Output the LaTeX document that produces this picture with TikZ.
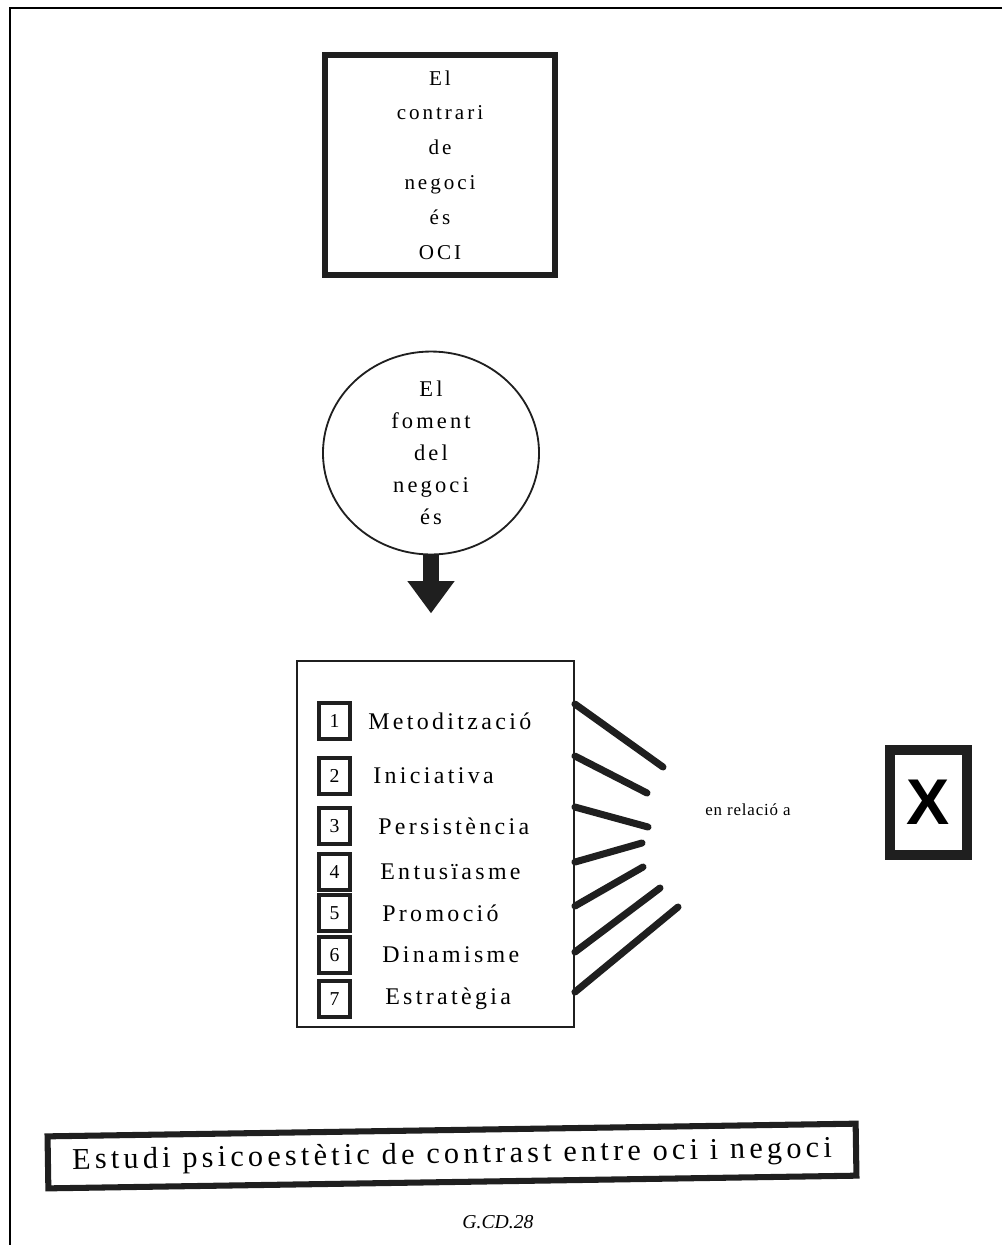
\documentclass[tikz,border=0pt]{standalone}
\usepackage{fontspec}
\setmainfont{Liberation Serif}
\newfontfamily\hand[LetterSpace=14]{Liberation Serif}
\newfontfamily\handnarrow[LetterSpace=5]{Liberation Serif}
\newfontfamily\marca{Liberation Sans}
\usetikzlibrary{shapes.geometric,arrows.meta}
\definecolor{tinta}{gray}{0.12}

\begin{document}
\begin{tikzpicture}[x=0.025cm, y=-0.025cm,
        quadre/.style={draw=tinta, line width=4.3pt, inner sep=0pt},
        numbox/.style={draw=tinta, line width=2.8pt, minimum width=0.78cm, minimum height=0.9cm, inner sep=0pt, font=\fontsize{14pt}{14pt}\selectfont},
        item/.style={anchor=west, inner sep=0pt, font=\hand\fontsize{17pt}{17pt}\selectfont},
        fan/.style={draw=tinta, line width=5pt, line cap=round}]

    % Bounding box and frame
    \useasboundingbox (0,0) rectangle (1002,1245);
    \draw[line width=1.4pt] (1002,8) -- (10,8) -- (10,1245);

    % Top box
    \node[quadre, minimum width=5.73cm, minimum height=5.5cm, align=center,
        font=\hand\fontsize{15pt}{24.8pt}\selectfont] (contrari) at (440,165)
        {El\\contrari\\de\\negoci\\és\\OCI};

    % Circle
    \node[ellipse, draw=tinta, line width=1.3pt, minimum width=5.4cm, minimum height=4.95cm,
        inner sep=0pt, align=center, font=\hand\fontsize{16pt}{22.7pt}\selectfont] (foment) at (431,453)
        {El\\foment\\del\\negoci\\és};

    % Arrow
    \draw[tinta, line width=12pt, -{Triangle[length=23pt, width=32pt]}] (foment.south) -- ++(0,58);

    % List box
    \node[draw=tinta, line width=1.3pt, minimum width=6.925cm, minimum height=9.15cm] (llista) at (435.5,844) {};

    % Numbered items
    \node[numbox] (n1) at (334.5,721) {1};
    \node[item] (m1) at (368,721) {Metodització};
    \node[numbox] (n2) at (334.5,776) {2};
    \node[item] (m2) at (373,776) {Iniciativa};
    \node[numbox] (n3) at (334.5,826) {3};
    \node[item] (m3) at (378,826) {Persistència};
    \node[numbox] (n4) at (334.5,872) {4};
    \node[item] (m4) at (380,872) {Entusïasme};
    \node[numbox] (n5) at (334.5,913) {5};
    \node[item] (m5) at (382,913) {Promoció};
    \node[numbox] (n6) at (334.5,955) {6};
    \node[item] (m6) at (382,955) {Dinamisme};
    \node[numbox] (n7) at (334.5,999) {7};
    \node[item] (m7) at (385,999) {Estratègia};

    % Fan lines
    \coordinate (f1) at (663,767);
    \coordinate (f2) at (647,793);
    \coordinate (f3) at (648,827);
    \coordinate (f4) at (642,843);
    \coordinate (f5) at (643,867);
    \coordinate (f6) at (660,888);
    \coordinate (f7) at (678,907);
    \draw[fan] (llista.north east) ++(0,44) -- (f1);
    \draw[fan] (llista.north east) ++(0,96) -- (f2);
    \draw[fan] (llista.north east) ++(0,147) -- (f3);
    \draw[fan] (llista.north east) ++(0,202) -- (f4);
    \draw[fan] (llista.north east) ++(0,246) -- (f5);
    \draw[fan] (llista.north east) ++(0,292) -- (f6);
    \draw[fan] (llista.north east) ++(0,332) -- (f7);

    % Relation label and X box
    \node[font=\handnarrow\fontsize{12pt}{12pt}\selectfont] (relacio) at (748,810) {en relació a};
    \node[draw=tinta, line width=7pt, minimum width=1.925cm, minimum height=2.625cm, inner sep=0pt,
        font=\marca\bfseries\fontsize{46pt}{46pt}\selectfont] (xcaixa) at (928.5,802.5) {X};

    % Bottom banner
    \node[quadre, rotate=0.9, minimum width=20.2cm, minimum height=1.3cm,
        font=\hand\fontsize{21.5pt}{21.5pt}\selectfont] (estudi) at (452,1156)
        {Estudi psicoestètic de contrast entre oci i negoci};

    % Code
    \node[font=\itshape\fontsize{14pt}{14pt}\selectfont] (codi) at (498,1222) {G.CD.28};

\end{tikzpicture}
\end{document}
